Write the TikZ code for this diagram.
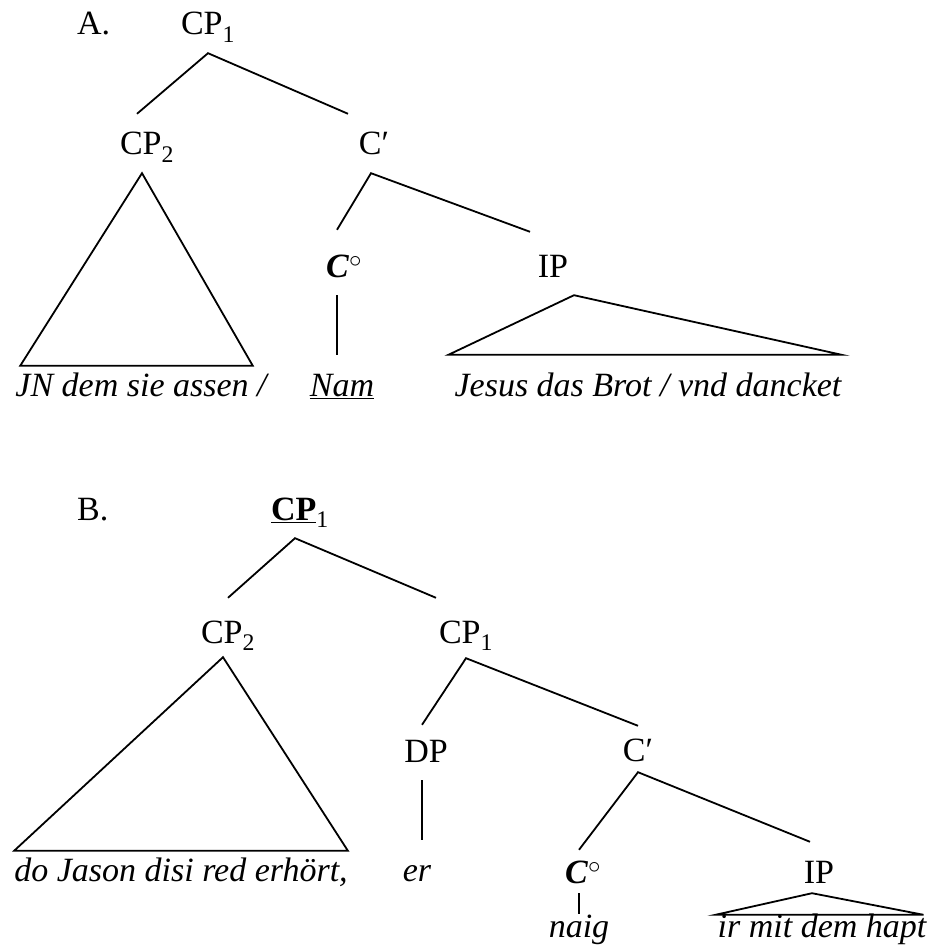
\documentclass[tikz,border=0pt]{standalone}
\usepackage{fontspec}
\setmainfont{Liberation Serif}
\tikzstyle{cat} = [anchor=base, inner xsep=0pt, inner ysep=18pt, text height=23pt, text depth=0pt, font=\fontsize{34}{40}\selectfont]
\tikzstyle{leaf} = [cat, font=\fontsize{34}{40}\selectfont\itshape]
\tikzstyle{branch} = [line width=1.8pt, line join=miter]
\begin{document}
\begin{tikzpicture}[x=1pt, y=1pt]
        \useasboundingbox (0,0) rectangle (934,-949);
        % tree A
        \node (laba) [cat, anchor=base west] at (77,-35) {A.};
        \node (cpa1) [cat] at (208,-35) {CP\textsubscript{1}};
        \node (cpa2) [cat] at (147,-155) {CP\textsubscript{2}};
        \node (cbara) [cat] at (374,-155) {C′};
        \node (c0a) [cat] at (344,-277) {\textbf{\textit{C}}$^{\circ}$};
        \node (ipa) [cat] at (553,-277) {IP};
        \node (leafa1) [leaf] at (141,-396) {JN dem sie assen /};
        \node (nama) [leaf] at (342,-396) {\underline{Nam}};
        \node (leafa3) [leaf] at (648,-396) {Jesus das Brot / vnd dancket};
        \draw [branch] ([xshift=-10pt]cpa2.north) -- (cpa1.south) -- ([xshift=-26pt]cbara.north);
        \draw [branch] ([xshift=-5pt]cpa2.south) -- ([xshift=5pt,yshift=-11pt]leafa1.north west) -- ([xshift=-14pt,yshift=-11pt]leafa1.north east) -- cycle;
        \draw [branch] ([xshift=-7pt,yshift=6pt]c0a.north) -- ([xshift=-3pt]cbara.south) -- ([xshift=-23pt,yshift=4pt]ipa.north);
        \draw [branch] ([xshift=-7pt]c0a.south) -- ([xshift=-7pt]c0a.south |- nama.north);
        \draw [branch] ([xshift=21pt]ipa.south) -- ([xshift=-6pt]leafa3.north west) -- (leafa3.north east) -- cycle;
        % tree B
        \node (labb) [cat, anchor=base west] at (77,-520) {B.};
        \node (cpb1) [cat] at (300,-520) {\underline{\textbf{CP}}\textsubscript{1}};
        \node (cpb2) [cat] at (228,-643) {CP\textsubscript{2}};
        \node (cpb3) [cat] at (466,-643) {CP\textsubscript{1}};
        \node (dpb) [cat] at (426,-762) {DP};
        \node (cbarb) [cat] at (638,-761) {C′};
        \node (c0b) [cat] at (583,-883) {\textbf{\textit{C}}$^{\circ}$};
        \node (ipb) [cat] at (819,-883) {IP};
        \node (leafb1) [leaf] at (181,-881) {do Jason disi red erhört,};
        \node (erb) [leaf] at (417,-881) {er};
        \node (naigb) [leaf] at (579,-937) {naig};
        \node (leafb3) [leaf] at (822,-937) {ir mit dem hapt};
        \draw [branch] ([yshift=4pt]cpb2.north) -- ([xshift=-5pt]cpb1.south) -- ([xshift=-30pt,yshift=4pt]cpb3.north);
        \draw [branch] ([xshift=-5pt,yshift=4pt]cpb2.south) -- ([yshift=-11pt]leafb1.north west) -- ([yshift=-11pt]leafb1.north east) -- cycle;
        \draw [branch] ([xshift=-4pt,yshift=-4pt]dpb.north) -- ([yshift=3pt]cpb3.south) -- ([yshift=-6pt]cbarb.north);
        \draw [branch] ([xshift=-4pt]dpb.south) -- ([xshift=-4pt]dpb.south |- erb.north);
        \draw [branch] ([xshift=-4pt,yshift=-8pt]c0b.north) -- ([yshift=7pt]cbarb.south) -- ([xshift=-9pt]ipb.north);
        \draw [branch] ([xshift=-4pt,yshift=8pt]c0b.south) -- ([yshift=-18pt]naigb.north);
        \draw [branch] ([xshift=-7pt,yshift=8pt]ipb.south) -- ([xshift=-2pt,yshift=-19pt]leafb3.north west) -- ([xshift=-3pt,yshift=-19pt]leafb3.north east) -- cycle;
      \end{tikzpicture}
\end{document}
